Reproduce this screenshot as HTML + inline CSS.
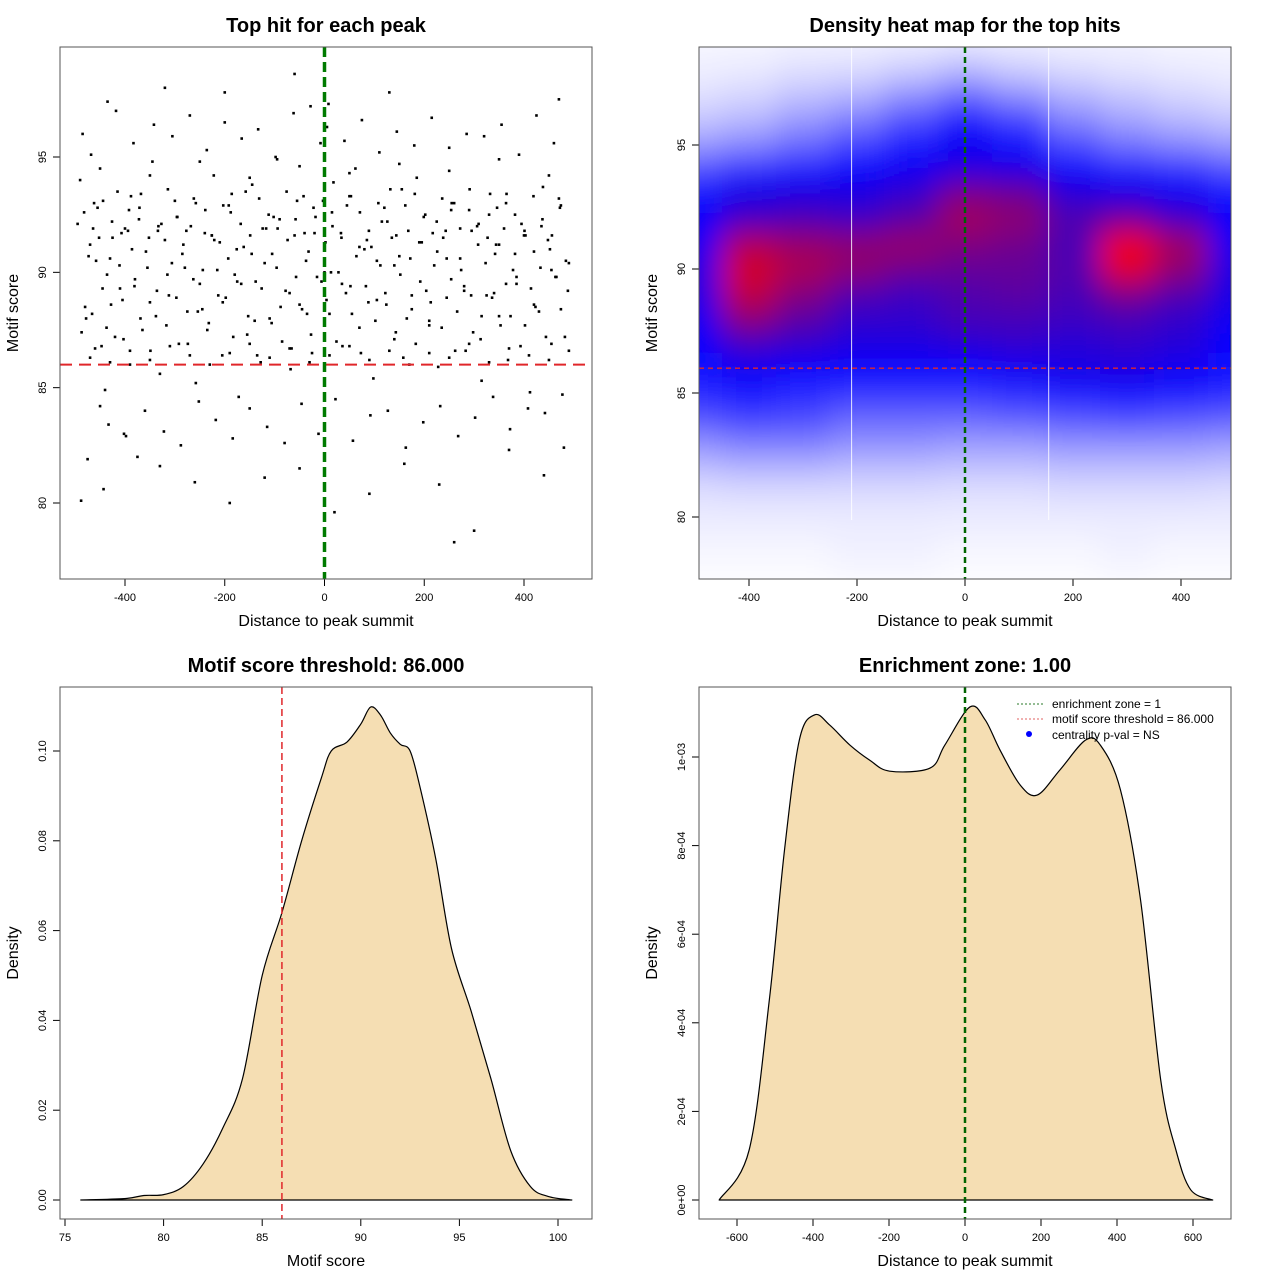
<!DOCTYPE html>
<html><head><meta charset="utf-8"><style>
body{margin:0;background:#fff;}
svg{display:block;font-family:"Liberation Sans",Arial,sans-serif;}
</style></head><body>
<svg id="c" width="1280" height="1280" viewBox="0 0 1280 1280" xmlns="http://www.w3.org/2000/svg">
<defs>
<filter id="blur" x="-20%" y="-20%" width="140%" height="140%"><feGaussianBlur stdDeviation="15"/></filter>
<clipPath id="clip2"><rect x="699" y="47" width="532" height="532"/></clipPath>
</defs>
</svg>
<script>
// ---------- Panel 1 data: scatter (distance, motif score) ----------
const scatterX=[-490,-480,-470,-460,-455,-445,-440,-430,-420,-415,-405,-400,-390,-380,-372,-365,-355,-345,-338,-330,-320,-312,-300,-292,-285,-275,-268,-258,-250,-240,-232,-222,-215,-205,-198,-188,-180,-172,-162,-155,-145,-138,-128,-120,-110,-102,-95,-85,-78,-68,-60,-50,-42,-32,-25,-15,-8,2,10,18,28,36,45,52,62,70,80,88,98,105,115,122,132,140,150,158,168,175,185,192,202,210,220,228,238,245,255,262,272,280,290,298,308,315,325,332,342,350,360,368,378,385,395,402,412,420,430,438,448,455,465,472,482,490,
-485,-468,-450,-433,-418,-398,-383,-360,-342,-322,-305,-288,-270,-252,-236,-218,-200,-184,-166,-150,-133,-115,-98,-80,-62,-46,-28,-12,5,22,40,57,75,92,110,127,145,163,180,198,215,232,250,268,285,302,320,338,355,372,390,408,425,442,460,477,
-478,-458,-437,-410,-386,-350,-315,-280,-245,-210,-175,-140,-105,-70,-35,0,35,70,105,140,175,210,245,280,315,350,385,420,455,488,
-495,-462,-425,-392,-368,-334,-296,-262,-226,-192,-158,-124,-90,-55,-20,15,50,85,120,155,190,225,260,295,330,365,400,435,470,
-475,-443,-402,-375,-330,-260,-190,-120,-50,20,90,160,230,300,370,440,480,-488,-320,-60,130,260,470,-200,8,-435,340,
-487,-473,-466,-452,-447,-436,-428,-411,-403,-394,-381,-369,-358,-349,-336,-327,-317,-306,-297,-283,-274,-263,-254,-244,-235,-226,-213,-204,-193,-183,-176,-167,-153,-146,-135,-126,-117,-106,-96,-88,-74,-66,-57,-45,-37,-27,-18,-6,4,13,24,33,43,55,64,73,83,94,102,112,124,135,143,152,165,172,183,195,204,213,226,235,243,254,266,274,283,294,306,313,323,336,344,353,364,373,382,393,403,414,423,433,444,452,463,474,484,
-482,-464,-444,-426,-407,-388,-371,-352,-333,-314,-295,-277,-258,-239,-221,-203,-186,-168,-149,-131,-112,-94,-76,-58,-40,-22,-3,16,34,53,71,89,108,126,144,162,181,199,217,236,254,272,291,309,327,346,364,382,401,419,437,456,474,
-470,-430,-390,-350,-310,-270,-230,-190,-150,-110,-70,-30,10,50,90,130,170,210,250,290,330,370,410,450,490,-450,-350,-250,-150,-50,50,150,250,350,450];
const scatterY=[94.0,88.5,91.2,86.7,92.8,89.3,84.9,90.6,87.2,93.5,88.8,91.9,86.0,89.7,92.3,87.5,90.2,94.8,88.1,85.6,91.4,89.0,93.1,86.9,90.8,88.3,92.0,85.2,89.5,91.7,87.8,94.2,90.1,86.4,88.9,92.6,89.9,84.6,91.1,87.3,93.8,89.6,86.1,90.4,88.0,92.4,94.9,87.0,89.2,85.8,91.6,88.6,93.3,90.9,86.5,89.8,95.6,91.3,88.2,93.9,90.0,86.8,92.9,89.4,94.5,87.6,91.0,88.7,85.4,90.5,92.2,89.1,93.6,87.1,90.7,86.3,91.8,88.4,94.1,89.6,92.5,87.9,90.3,85.9,91.5,88.9,93.0,86.6,90.6,89.2,92.7,87.4,91.2,85.3,89.0,93.4,90.8,88.1,91.9,86.2,90.1,89.5,92.1,87.7,84.8,90.9,88.3,93.7,91.4,86.9,89.8,92.8,87.2,90.4,
96.0,95.1,84.2,83.4,97.0,82.9,95.6,84.0,96.4,83.1,95.9,82.5,96.8,84.4,95.3,83.6,96.5,82.8,95.8,84.1,96.2,83.3,95.0,82.6,96.9,84.3,97.2,83.0,96.3,84.5,95.7,82.7,96.6,83.8,95.2,84.0,96.1,82.4,95.5,83.5,96.7,84.2,95.4,82.9,96.0,83.7,95.9,84.6,96.4,83.2,95.1,84.1,96.8,83.9,95.6,84.7,
88.0,90.5,87.6,89.3,91.0,88.7,89.9,90.2,88.4,91.3,89.6,87.9,90.8,89.1,88.2,90.0,89.5,91.1,88.8,90.3,89.0,87.7,90.6,89.4,88.1,91.2,89.8,88.6,90.1,89.2,
92.1,93.0,91.5,92.7,93.4,91.8,92.4,93.2,91.6,92.9,93.5,91.9,92.3,93.1,91.7,92.6,93.3,91.4,92.8,93.6,91.3,92.2,93.0,91.8,92.5,93.4,91.6,92.0,93.2,
81.9,80.6,83.0,82.0,81.6,80.9,80.0,81.1,81.5,79.6,80.4,81.7,80.8,78.8,82.3,81.2,82.4,80.1,98.0,98.6,97.8,78.3,97.5,97.8,97.3,97.4,
89.1,87.4,90.7,88.2,91.5,86.8,89.9,88.6,90.3,87.1,91.8,89.4,88.0,90.9,86.6,89.2,92.1,87.7,90.4,88.9,91.2,86.9,89.7,88.3,90.1,87.5,91.6,89.0,88.7,90.6,87.2,91.0,89.5,88.1,90.8,86.4,89.3,91.9,87.8,90.2,88.5,91.4,86.7,89.8,88.4,90.5,87.3,92.4,89.6,88.8,90.0,87.0,91.7,89.1,88.2,90.7,86.5,89.4,91.1,87.9,90.3,88.6,91.5,87.4,89.9,88.0,90.6,86.9,91.3,89.2,88.7,90.9,87.6,91.8,89.7,88.3,90.1,86.6,89.0,92.0,87.1,90.4,88.9,91.2,87.7,89.5,88.1,90.8,86.8,91.6,89.3,88.5,90.2,87.2,91.0,89.8,88.4,90.5,
92.6,91.9,93.1,92.2,91.7,93.3,92.8,91.5,92.0,93.6,92.4,91.8,93.0,92.7,91.4,92.9,93.4,92.1,91.6,93.2,92.5,91.9,93.5,92.3,91.7,92.8,93.1,92.0,91.5,93.3,92.6,91.8,93.0,92.2,91.6,92.9,93.4,92.4,91.7,93.2,92.7,91.9,93.6,92.1,91.5,92.8,93.0,92.5,91.8,93.3,92.3,91.6,92.9,
86.3,86.1,86.6,86.2,86.8,86.4,86.0,86.5,86.9,86.3,86.7,86.1,86.4,86.8,86.2,86.6,86.0,86.5,86.3,86.9,86.1,86.7,86.4,86.2,86.6,94.5,94.2,94.8,94.1,94.6,94.3,94.7,94.4,94.9,94.2];

// ---------- Panel 2 data: density grid ----------
const gridXs=[-600,-500,-400,-300,-200,-100,0,100,200,300,400,500,600];
const gridYs=[99,98,97,96,95,94,93,92,91,90,89,88,87,86,85,84,83,82,81,80,79,78];
const gridVals=[
[0.02,0.02,0.02,0.03,0.03,0.04,0.05,0.04,0.03,0.03,0.02,0.02,0.02],
[0.03,0.03,0.04,0.06,0.07,0.1,0.14,0.1,0.07,0.05,0.04,0.03,0.03],
[0.06,0.06,0.08,0.12,0.15,0.22,0.3,0.22,0.15,0.11,0.08,0.06,0.06],
[0.1,0.11,0.14,0.2,0.26,0.35,0.45,0.38,0.24,0.18,0.14,0.11,0.1],
[0.18,0.2,0.24,0.3,0.38,0.46,0.52,0.48,0.36,0.28,0.24,0.2,0.18],
[0.32,0.35,0.42,0.46,0.5,0.52,0.56,0.55,0.5,0.45,0.42,0.35,0.32],
[0.46,0.48,0.55,0.56,0.56,0.6,0.75,0.72,0.58,0.55,0.52,0.48,0.46],
[0.5,0.5,0.62,0.65,0.62,0.68,0.82,0.78,0.66,0.72,0.62,0.5,0.5],
[0.5,0.52,0.85,0.8,0.78,0.8,0.75,0.72,0.64,0.98,0.82,0.52,0.5],
[0.5,0.55,0.92,0.84,0.78,0.72,0.7,0.7,0.66,0.95,0.78,0.55,0.5],
[0.5,0.55,0.88,0.76,0.66,0.62,0.66,0.68,0.64,0.74,0.66,0.55,0.5],
[0.5,0.52,0.78,0.68,0.6,0.6,0.64,0.64,0.62,0.64,0.6,0.52,0.5],
[0.5,0.5,0.62,0.6,0.56,0.56,0.58,0.6,0.58,0.6,0.58,0.5,0.5],
[0.45,0.48,0.52,0.5,0.5,0.5,0.5,0.52,0.55,0.56,0.52,0.48,0.45],
[0.38,0.42,0.45,0.42,0.4,0.4,0.4,0.42,0.45,0.48,0.45,0.42,0.38],
[0.3,0.34,0.38,0.36,0.3,0.3,0.3,0.32,0.34,0.36,0.34,0.32,0.3],
[0.2,0.22,0.26,0.26,0.22,0.22,0.2,0.2,0.22,0.22,0.22,0.2,0.2],
[0.12,0.13,0.15,0.15,0.13,0.13,0.12,0.12,0.13,0.13,0.13,0.12,0.12],
[0.06,0.06,0.07,0.07,0.07,0.07,0.06,0.06,0.07,0.07,0.07,0.06,0.06],
[0.04,0.04,0.04,0.04,0.04,0.04,0.04,0.04,0.04,0.04,0.04,0.04,0.04],
[0.02,0.02,0.02,0.02,0.03,0.03,0.02,0.02,0.02,0.03,0.02,0.02,0.02],
[0.01,0.01,0.01,0.01,0.02,0.02,0.01,0.01,0.01,0.02,0.01,0.01,0.01]];

// ---------- Panel 3 data: motif score density ----------
const scoreXs=[75.8,78,79,80,81,82,83,84,85,86,87,88,88.5,89.3,90,90.5,91,91.5,92,92.5,93,93.8,94.6,95.6,96.6,97.6,98.6,99.5,100.7];
const scoreDens=[0,0.0003,0.001,0.0012,0.003,0.008,0.016,0.027,0.05,0.064,0.08,0.094,0.1,0.102,0.106,0.1098,0.108,0.104,0.1015,0.1,0.092,0.076,0.056,0.042,0.027,0.011,0.003,0.0008,0];

// ---------- Panel 4 data: distance density (units of 1e-4) ----------
const distXs=[-647,-568,-515,-475,-436,-396,-356,-303,-251,-198,-92,-53,13,53,92,145,190,250,317,356,409,462,515,555,594,652];
const distDens=[0,1.13,4.51,7.9,10.38,10.95,10.72,10.27,9.93,9.68,9.75,10.27,11.13,10.84,10.16,9.37,9.14,9.71,10.38,10.27,9.26,6.77,2.71,1.13,0.23,0];

const NS="http://www.w3.org/2000/svg";
const svg=document.getElementById('c');
function mk(tag,attrs,parent){const e=document.createElementNS(NS,tag);for(const k in attrs)e.setAttribute(k,attrs[k]);(parent||svg).appendChild(e);return e;}
function txt(s,attrs,parent){const e=mk('text',attrs,parent);e.textContent=s;return e;}
function lin(d0,d1,r0,r1){return v=>r0+(v-d0)/(d1-d0)*(r1-r0);}
function smooth(P){let d='M'+P[0][0]+','+P[0][1];
 for(let i=0;i<P.length-1;i++){const p0=P[Math.max(0,i-1)],p1=P[i],p2=P[i+1],p3=P[Math.min(P.length-1,i+2)];
  const c1x=p1[0]+(p2[0]-p0[0])/6,c1y=p1[1]+(p2[1]-p0[1])/6,c2x=p2[0]-(p3[0]-p1[0])/6,c2y=p2[1]-(p3[1]-p1[1])/6;
  d+=` C${c1x},${c1y} ${c2x},${c2y} ${p2[0]},${p2[1]}`;}
 return d;}

function frame(name,x0,y0,title,xlab,ylab,xt,xs,yt,ylabs,ys){
  const g=mk('g',{});  
  const t=txt(title,{x:x0+266,y:y0-15,'text-anchor':'middle','font-size':20,'font-weight':'bold'},g);
   
  const xl=txt(xlab,{x:x0+266,y:y0+579,'text-anchor':'middle','font-size':16},g);
   
  const yl=txt(ylab,{x:0,y:0,'text-anchor':'middle','font-size':16,transform:`translate(${x0-42},${y0+266}) rotate(-90)`},g);
   
  const xa=mk('g',{},g);  
  xt.forEach((v,i)=>{const px=xs(v);mk('line',{x1:px,x2:px,y1:y0+532,y2:y0+539,stroke:'#000'},xa);
    txt(String(v),{x:px,y:y0+554,'text-anchor':'middle','font-size':11},xa);});
  mk('line',{x1:xs(xt[0]),x2:xs(xt[xt.length-1]),y1:y0+532,y2:y0+532,stroke:'#000'},xa);
  const ya=mk('g',{},g);  
  yt.forEach((v,i)=>{const py=ys(v);mk('line',{x1:x0-7,x2:x0,y1:py,y2:py,stroke:'#000'},ya);
    txt(ylabs[i],{x:0,y:0,'text-anchor':'middle','font-size':11,transform:`translate(${x0-14},${py}) rotate(-90)`},ya);});
  return g;
}
function box(x0,y0){const b=mk('rect',{x:x0,y:y0,width:532,height:532,fill:'none',stroke:'#555'});}

// Panel 1
{const xs=lin(0,400,324.5,524),ys=lin(80,95,503,157);
 const g=frame('scatter-panel',60,47,'Top hit for each peak','Distance to peak summit','Motif score',[-400,-200,0,200,400],xs,[80,85,90,95],['80','85','90','95'],ys);
 const pts=mk('g',{fill:'#000'},g);  
 for(let i=0;i<scatterX.length;i++){const p=mk('rect',{x:xs(scatterX[i])-1.3,y:ys(scatterY[i])-1.3,width:2.6,height:2.6},pts);
   }
 const h=mk('line',{x1:60,x2:592,y1:ys(86),y2:ys(86),stroke:'#e0262a','stroke-width':2,'stroke-dasharray':'12,7'},g);
  
 const v=mk('line',{x1:xs(0),x2:xs(0),y1:47,y2:579,stroke:'#007a00','stroke-width':3.5,'stroke-dasharray':'10,5'},g);
  
 box(60,47);}

// Panel 2
function col(t){t=Math.max(0,Math.min(1,t));let r,g,b;
 if(t<0.5){const u=t/0.5;r=255*(1-u);g=255*(1-u);b=255;}else{const u=(t-0.5)/0.5;r=255*u;g=0;b=255*(1-u);}
 return `rgb(${r|0},${g|0},${b|0})`;}
{const xs=lin(0,400,965,1181),ys=lin(80,95,517,145);
 const g=frame('heatmap-panel',699,47,'Density heat map for the top hits','Distance to peak summit','Motif score',[-400,-200,0,200,400],xs,[80,85,90,95],['80','85','90','95'],ys);
 const cl=mk('g',{'clip-path':'url(#clip2)'},g);
 mk('rect',{x:699,y:47,width:532,height:532,fill:'#fff'},cl);
 const hm=mk('g',{filter:'url(#blur)'},cl);  
 gridYs.forEach((yv,r)=>gridXs.forEach((xv,c)=>{
   const x1=xs(xv-50),x2=xs(xv+50),y1=ys(yv+0.5),y2=ys(yv-0.5);
   const cell=mk('rect',{x:x1,y:y1,width:x2-x1+0.5,height:y2-y1+0.5,fill:col(gridVals[r][c])},hm);
    }));
 [-210,155].forEach(v=>{mk('line',{x1:xs(v),x2:xs(v),y1:47,y2:520,stroke:'#fff','stroke-width':1,opacity:0.85},cl);});
 const h=mk('line',{x1:699,x2:1231,y1:ys(86),y2:ys(86),stroke:'#e0262a','stroke-width':1.3,'stroke-dasharray':'5,4'},g);
  
 const v=mk('line',{x1:xs(0),x2:xs(0),y1:47,y2:579,stroke:'#006400','stroke-width':2.5,'stroke-dasharray':'6,4'},g);
  
 box(699,47);}

// Panel 3
{const xs=lin(75,100,65,558),ys=lin(0,0.1,1200,751);
 const g=frame('score-density-panel',60,687,'Motif score threshold: 86.000','Motif score','Density',[75,80,85,90,95,100],xs,[0,0.02,0.04,0.06,0.08,0.1],['0.00','0.02','0.04','0.06','0.08','0.10'],ys);
 const d=smooth(scoreXs.map((v,i)=>[xs(v),ys(scoreDens[i])]))+' Z';
 const a=mk('path',{d:d,fill:'#f5deb3',stroke:'#000','stroke-width':1.2,'stroke-linejoin':'round'},g);
  
 const v=mk('line',{x1:xs(86),x2:xs(86),y1:687,y2:1219,stroke:'#e0262a','stroke-width':1.5,'stroke-dasharray':'7,4'},g);
  
 box(60,687);}

// Panel 4
{const xs=lin(0,600,965,1193),ys=lin(0,10,1200,757);
 const g=frame('distance-density-panel',699,687,'Enrichment zone: 1.00','Distance to peak summit','Density',[-600,-400,-200,0,200,400,600],xs,[0,2,4,6,8,10],['0e+00','2e-04','4e-04','6e-04','8e-04','1e-03'],ys);
 const d=smooth(distXs.map((v,i)=>[xs(v),ys(distDens[i])]))+' Z';
 const a=mk('path',{d:d,fill:'#f5deb3',stroke:'#000','stroke-width':1.2,'stroke-linejoin':'round'},g);
  
 const v=mk('line',{x1:xs(0),x2:xs(0),y1:687,y2:1219,stroke:'#006400','stroke-width':2.5,'stroke-dasharray':'6,4'},g);
  
 const lg=mk('g',{},g);  
 mk('line',{x1:1017,x2:1043,y1:704,y2:704,stroke:'#2a7a2a','stroke-dasharray':'2,2'},lg);
 mk('line',{x1:1017,x2:1043,y1:719,y2:719,stroke:'#e06060','stroke-dasharray':'2,2'},lg);
 mk('circle',{cx:1029,cy:734,r:3,fill:'#0000ff'},lg);
 txt('enrichment zone = 1',{x:1052,y:708,'font-size':12},lg);
 txt('motif score threshold = 86.000',{x:1052,y:723,'font-size':12},lg);
 txt('centrality p-val = NS',{x:1052,y:739,'font-size':12},lg);
 box(699,687);}
</script>
</body></html>
